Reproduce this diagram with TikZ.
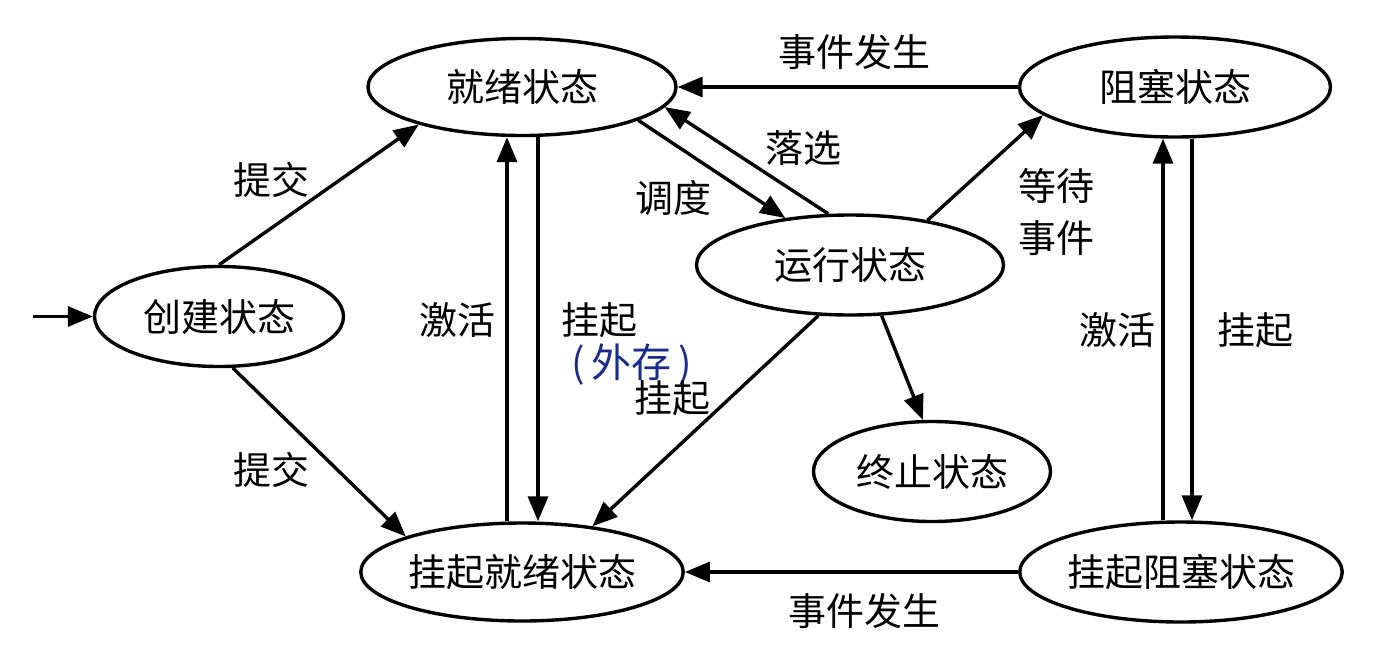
\documentclass[tikz,border=0pt]{standalone}
\usepackage{fontspec}
\setmainfont{Noto Sans CJK SC}
\usetikzlibrary{shapes.geometric,arrows.meta}
\definecolor{inkblue}{RGB}{25,45,140}
\begin{document}
\begin{tikzpicture}[x=1pt,y=-1pt,
  state/.style={ellipse,draw,line width=3.4pt,inner sep=0pt,font=\fontsize{38}{44}\selectfont},
  lbl/.style={font=\fontsize{38}{44}\selectfont,inner sep=0pt},
  arr/.style={line width=3.4pt,-{Triangle[length=25pt,width=20pt]}}]
\useasboundingbox[fill=white] (0,0) rectangle (1393,665);
% states
\node[state,minimum width=308pt,minimum height=97pt] (ready) at (522,87) {就绪状态};
\node[state,minimum width=311pt,minimum height=100pt] (blocked) at (1175,87) {阻塞状态};
\node[state,minimum width=249pt,minimum height=100pt] (create) at (219,316.5) {创建状态};
\node[state,minimum width=307pt,minimum height=100pt] (running) at (850,265) {运行状态};
\node[state,minimum width=237pt,minimum height=100pt] (term) at (932,471.5) {终止状态};
\node[state,minimum width=312pt,minimum height=98pt] (susready) at (522,572) {挂起就绪状态};
\node[state,minimum width=309pt,minimum height=100pt] (susblocked) at (1181,572) {挂起阻塞状态};
\coordinate (init) at (33,316.5);
% connectors
\draw[arr] (init) -- (create.west);
\draw[arr] (create.north) -- (ready.200);
\draw[arr] (create.285) -- (susready.163);
\draw[arr] (blocked.west) -- (ready.east);
\draw[arr] (ready.344.5) -- (running.144.5);
\draw[arr] (running.113.5) -- (ready.352);
\draw[arr] (running.30) -- (blocked.192);
\draw[arr] (running.302.4) -- (term.100.8);
\draw[arr] (running.238.4) -- (susready.33.2);
\draw[arr] ([xshift=-15pt]susready.north) -- ([xshift=-15pt]ready.south);
\draw[arr] ([xshift=16pt]ready.south) -- ([xshift=16pt]susready.north);
\draw[arr] ([xshift=-18pt]susblocked.north) -- ([xshift=-12pt]blocked.south);
\draw[arr] ([xshift=17pt]blocked.south) -- ([xshift=11pt]susblocked.north);
\draw[arr] (susblocked.west) -- (susready.east);
% labels
\node[lbl] (l1) at (271,180) {提交};
\node[lbl] (l2) at (271,470) {提交};
\node[lbl] (l3) at (854,52) {事件发生};
\node[lbl] (l4) at (803,148) {落选};
\node[lbl] (l5) at (673,198) {调度};
\node[lbl,align=center,font=\fontsize{38}{52}\selectfont] (l6) at (1056,212) {等待\\事件};
\node[lbl] (l7) at (457,320) {激活};
\node[lbl] (l8) at (599,320) {挂起};
\node[lbl,text=inkblue,font=\fontsize{40}{46}\selectfont] (l9) at (632,365) {(\,外存\,)};
\node[lbl] (l10) at (672,398) {挂起};
\node[lbl] (l11) at (1117,330) {激活};
\node[lbl] (l12) at (1255,330) {挂起};
\node[lbl] (l13) at (864,611) {事件发生};
\end{tikzpicture}
\end{document}
